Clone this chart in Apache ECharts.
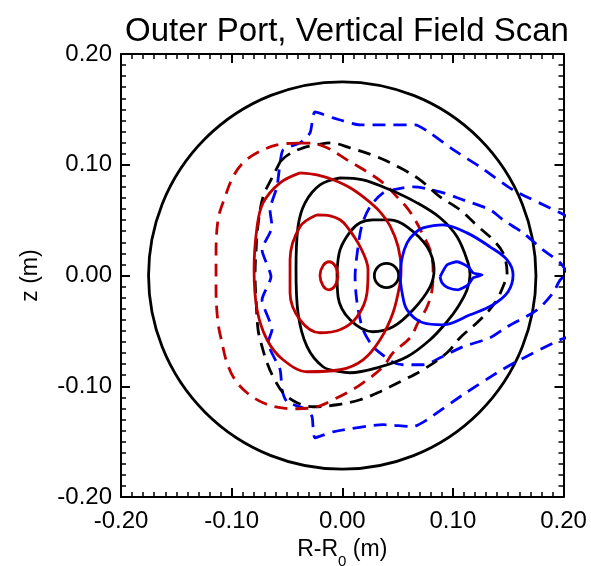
<!DOCTYPE html>
<html>
<head>
<meta charset="utf-8">
<script src="https://cdn.jsdelivr.net/npm/echarts@6/dist/echarts.min.js"></script>
<style>
html,body{margin:0;padding:0;background:#fff;}
#chart{width:591px;height:566px;}
</style>
</head>
<body>
<div id="chart"></div>
<script>
// ---- tick labels ----
const xTickLabels = ['-0.20', '-0.10', '0.00', '0.10', '0.20'];
const yTickLabels = ['-0.20', '-0.10', '0.00', '0.10', '0.20'];

// ---- circles: [centerX, centerY, radius] ----
const limiterCircle = [0, 0, 0.175];
const blackCoreCircle = [0.040, 0, 0.011];

// ---- contours [R-R0, z] ----
const blackOuter = [
  [-0.002,0.0882],[0.0188,0.0864],[0.0432,0.0774],[0.0676,0.0656],[0.0884,0.0521],[0.1038,0.0349],
  [0.1137,0.0115],[0.1155,0.0006],[0.1128,-0.0129],[0.1047,-0.0282],[0.0947,-0.0417],[0.0794,-0.058],
  [0.0586,-0.0733],[0.0315,-0.0833],[0.007,-0.0878],[-0.002,-0.0869],[-0.0174,-0.0824],[-0.0318,-0.0643],
  [-0.040,-0.0337],[-0.0418,0.0051],[-0.040,0.044],[-0.0336,0.0656],[-0.0201,0.0819],[-0.002,0.0882]
];
const blackMiddle = [
  [-0.0047,0.0024],[-0.002,0.0232],[0.0071,0.0394],[0.0161,0.0476],[0.0278,0.0503],[0.0432,0.0503],
  [0.0586,0.044],[0.0767,0.0259],[0.083,0.0051],[0.0794,-0.0102],[0.0641,-0.0309],[0.0459,-0.0463],
  [0.0278,-0.0508],[0.0071,-0.040],[-0.0038,-0.0192],[-0.0047,0.0024]
];
const blackDashed = [
  [-0.0562,0.1026],[-0.049,0.1089],[-0.0354,0.1153],[-0.0228,0.118],[-0.011,0.1198],[0.0071,0.1153],
  [0.0315,0.1071],[0.0523,0.0972],[0.0703,0.0864],[0.0884,0.071],[0.1065,0.0593],[0.1219,0.045],
  [0.1363,0.0322],[0.1453,0.0205],[0.149,0.0024],[0.1453,-0.0102],[0.1381,-0.0246],[0.1246,-0.040],
  [0.1065,-0.0562],[0.0947,-0.0698],[0.073,-0.0851],[0.0523,-0.0959],[0.0342,-0.1049],[0.0161,-0.1122],
  [-0.0047,-0.1167],[-0.0264,-0.1185],[-0.0409,-0.1149],[-0.0535,-0.1059],[-0.0625,-0.0914],[-0.068,-0.0788],
  [-0.0725,-0.0643],[-0.0761,-0.049],[-0.0779,-0.0219],[-0.0788,0.0006],[-0.0779,0.0232],[-0.0761,0.0458],
  [-0.0716,0.071],[-0.0635,0.0882],[-0.0562,0.1026]
];
const redOuter = [
  [-0.0381,0.0927],[-0.0228,0.0909],[-0.0083,0.0864],[0.0071,0.0792],[0.0224,0.0683],[0.0342,0.0575],
  [0.0432,0.0449],[0.0505,0.026],[0.0532,0.0051],[0.0523,-0.0066],[0.0459,-0.0336],[0.0342,-0.058],
  [0.0188,-0.0761],[-0.002,-0.0851],[-0.0318,-0.0869],[-0.0535,-0.0761],[-0.068,-0.058],[-0.077,-0.0309],
  [-0.0797,0.0051],[-0.077,0.044],[-0.0716,0.0656],[-0.0562,0.0837],[-0.0381,0.0927]
];
const redMiddle = [
  [-0.0228,0.0548],[-0.011,0.0539],[-0.002,0.0503],[0.0043,0.044],[0.0161,0.026],[0.0233,0.0051],
  [0.0224,-0.0156],[0.0134,-0.0373],[-0.002,-0.049],[-0.0201,-0.0517],[-0.0382,-0.040],[-0.0472,-0.0156],
  [-0.0472,0.0142],[-0.0382,0.044],[-0.0228,0.0548]
];
const redInner = [
  [-0.0038,0],[-0.0065,0.0088],[-0.0119,0.0124],[-0.0174,0.0088],[-0.0201,0],[-0.0174,-0.0093],
  [-0.0119,-0.0129],[-0.0065,-0.0093],[-0.0038,0]
];
const redDashed = [
  [-0.0406,0.1196],[-0.0291,0.1196],[-0.0137,0.1153],[0.0043,0.1044],[0.0224,0.0936],[0.0369,0.0837],
  [0.0495,0.071],[0.0586,0.0611],[0.0658,0.0503],[0.073,0.0367],[0.0794,0.0232],[0.0821,0.0051],
  [0.0812,-0.0129],[0.0767,-0.0282],[0.0685,-0.0426],[0.0613,-0.0562],[0.0459,-0.0698],[0.0369,-0.0824],
  [0.0188,-0.0969],[0.0043,-0.1059],[-0.0083,-0.1122],[-0.0228,-0.1185],[-0.0409,-0.1203],[-0.0562,-0.1194],
  [-0.0716,-0.1149],[-0.0861,-0.1059],[-0.097,-0.0941],[-0.1042,-0.0788],[-0.1087,-0.0607],[-0.1123,-0.0426],
  [-0.1141,-0.0129],[-0.1141,0.0142],[-0.1123,0.0503],[-0.1059,0.0711],[-0.0987,0.0891],[-0.0897,0.1017],
  [-0.077,0.1108],[-0.059,0.118],[-0.0406,0.1196]
];
const blueOuter = [
  [0.0523,-0.0012],[0.0541,0.016],[0.0586,0.0295],[0.0658,0.0385],[0.073,0.043],[0.0911,0.0458],
  [0.1128,0.0385],[0.1336,0.0259],[0.149,0.0142],[0.1544,0.0006],[0.1499,-0.0147],[0.1363,-0.0264],
  [0.1156,-0.0355],[0.0911,-0.0445],[0.073,-0.0427],[0.0586,-0.031],[0.0541,-0.0156],[0.0523,-0.0012]
];
const blueInner = [
  [0.0884,-0.0012],[0.0948,0.0097],[0.1038,0.0124],[0.1137,0.0079],[0.1183,0.0024],[0.1264,0.0006],
  [0.1183,-0.0021],[0.1137,-0.0084],[0.1047,-0.0129],[0.0957,-0.0111],[0.0902,-0.0066],[0.0884,-0.0012]
];
const blueDashedOuter = [
  [0.205,0.052],[0.197,0.0566],[0.1544,0.0773],[0.1246,0.0981],[0.1006,0.1134],[0.0794,0.1288],
  [0.0658,0.136],[0.0387,0.136],[0.0161,0.136],[-0.0083,0.1423],[-0.0246,0.1477],[-0.0291,0.1287],
  [-0.0382,0.1198],[-0.0535,0.1134],[-0.0562,0.1017],[-0.059,0.0801],[-0.0653,0.0593],[-0.0635,0.044],
  [-0.0725,0.0232],[-0.0644,-0.0012],[-0.0725,-0.0219],[-0.0635,-0.049],[-0.0671,-0.0607],[-0.0562,-0.085],
  [-0.0544,-0.1031],[-0.0499,-0.114],[-0.0318,-0.1212],[-0.0273,-0.1275],[-0.0246,-0.1465],[-0.0083,-0.1411],
  [0.0369,-0.1347],[0.064,-0.1365],[0.0767,-0.1302],[0.1092,-0.1076],[0.140,-0.0878],[0.1608,-0.076],
  [0.197,-0.058],[0.205,-0.0553]
];
const blueDashedInner = [
  [0.203,0.003],[0.197,0.0115],[0.1815,0.0232],[0.1634,0.0385],[0.1453,0.0503],[0.1336,0.0593],
  [0.1092,0.0683],[0.0884,0.0755],[0.064,0.080],[0.0459,0.0773],[0.0369,0.0746],[0.0251,0.062],
  [0.0179,0.0458],[0.0143,0.026],[0.0116,-0.0012],[0.0134,-0.0246],[0.0188,-0.049],[0.0278,-0.0643],
  [0.0342,-0.0698],[0.045,-0.0779],[0.055,-0.0806],[0.073,-0.0806],[0.0884,-0.0743],[0.1092,-0.0643],
  [0.1336,-0.0562],[0.149,-0.0463],[0.1761,-0.031],[0.1906,-0.0156],[0.197,-0.0039],[0.203,0.001]
];

const RED = '#c00000', BLUE = '#0000ff', BLACK = '#000000';
const LW = 2.8;
const DASH = [13, 8];
const FONT = 'Liberation Sans, Arial, Helvetica, sans-serif';

function contour(data, color, dashed, smooth) {
  return {
    type: 'line', data: data, showSymbol: false, symbol: 'none', silent: true,
    smooth: smooth === undefined ? 0.35 : smooth, clip: true, xAxisIndex: 0, yAxisIndex: 0,
    lineStyle: { color: color, width: LW, type: dashed ? DASH : 'solid' },
    animation: false
  };
}
function circleSeries(c, color) {
  return {
    type: 'custom', xAxisIndex: 0, yAxisIndex: 0, silent: true, animation: false,
    data: [c],
    renderItem: function (params, api) {
      const p = api.coord([api.value(0), api.value(1)]);
      const s = api.size([api.value(2), api.value(2)]);
      return { type: 'circle', shape: { cx: p[0], cy: p[1], r: (s[0] + s[1]) / 2 },
        style: { fill: 'none', stroke: color, lineWidth: LW } };
    }
  };
}

const xMin = -0.2, xMax = 0.2, step = 0.1;
const tickStyle = { show: true, inside: true, length: 9, lineStyle: { color: '#000', width: 2 } };
const minorStyle = { show: true, splitNumber: 10, length: 5, lineStyle: { color: '#000', width: 1.5 } };
const lineStyle = { show: true, onZero: false, lineStyle: { color: '#000', width: 2 } };

const chart = echarts.init(document.getElementById('chart'), null, { renderer: 'canvas' });
chart.setOption({
  backgroundColor: '#fff',
  animation: false,
  title: {
    text: 'Outer Port, Vertical Field Scan', left: 342, top: 10, textAlign: 'center',
    textStyle: { fontFamily: FONT, fontSize: 33, fontWeight: 'normal', color: '#000' }
  },
  grid: { left: 121, top: 54, width: 442.5, height: 443, containLabel: false, outerBoundsMode: 'none' },
  xAxis: [
    { type: 'value', min: xMin, max: xMax, interval: step, position: 'bottom',
      axisLine: lineStyle, axisTick: tickStyle, minorTick: minorStyle, splitLine: { show: false },
      axisLabel: { margin: 12, color: '#000', fontFamily: FONT, fontSize: 24,
        formatter: function (v) { return xTickLabels[Math.round((v - xMin) / step)]; } },
      name: '{n|R-R}{s|0}{n| (m)}', nameLocation: 'middle', nameGap: 40,
      nameTextStyle: { rich: {
        n: { fontFamily: FONT, fontSize: 23, color: '#000' },
        s: { fontFamily: FONT, fontSize: 15, color: '#000', verticalAlign: 'bottom', padding: [0,0,-8,0] } } }
    },
    { type: 'value', min: xMin, max: xMax, interval: step, position: 'top',
      axisLine: lineStyle, axisTick: tickStyle, minorTick: minorStyle, splitLine: { show: false },
      axisLabel: { show: false } }
  ],
  yAxis: [
    { type: 'value', min: xMin, max: xMax, interval: step, position: 'left',
      axisLine: lineStyle, axisTick: tickStyle, minorTick: minorStyle, splitLine: { show: false },
      axisLabel: { margin: 9, color: '#000', fontFamily: FONT, fontSize: 24,
        formatter: function (v) { return yTickLabels[Math.round((v - xMin) / step)]; } },
      name: 'z (m)', nameLocation: 'middle', nameGap: 79, nameRotate: 90,
      nameTextStyle: { fontFamily: FONT, fontSize: 23, color: '#000' }
    },
    { type: 'value', min: xMin, max: xMax, interval: step, position: 'right',
      axisLine: lineStyle, axisTick: tickStyle, minorTick: minorStyle, splitLine: { show: false },
      axisLabel: { show: false } }
  ],
  series: [
    circleSeries(limiterCircle, BLACK),
    contour(blueDashedOuter, BLUE, true, 0.2),
    contour(blueDashedInner, BLUE, true, 0.3),
    contour(blackDashed, BLACK, true),
    contour(redDashed, RED, true),
    contour(blackOuter, BLACK, false),
    contour(blackMiddle, BLACK, false),
    circleSeries(blackCoreCircle, BLACK),
    contour(redOuter, RED, false),
    contour(redMiddle, RED, false),
    contour(redInner, RED, false),
    contour(blueOuter, BLUE, false),
    contour(blueInner, BLUE, false, 0.2)
  ]
});
</script>
</body>
</html>
